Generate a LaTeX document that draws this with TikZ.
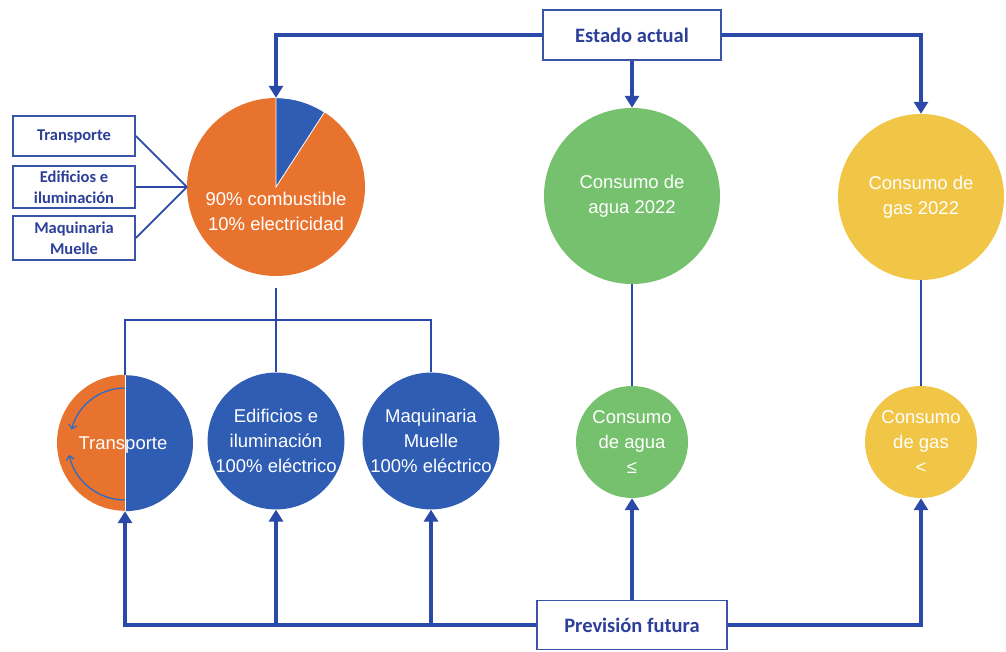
\documentclass[tikz,border=0pt]{standalone}
\usepackage{fontspec}
\setmainfont{Liberation Sans}
\newfontfamily\boxfont{Carlito}
\usetikzlibrary{arrows.meta}

\definecolor{fuel}{HTML}{E8732F}
\definecolor{elec}{HTML}{2F5DB4}
\definecolor{lineblue}{HTML}{2A49A8}
\definecolor{boxblue}{HTML}{3A55A8}
\definecolor{boxtext}{HTML}{2C3F99}
\definecolor{water}{HTML}{76C16D}
\definecolor{gas}{HTML}{F1C545}
\definecolor{arcblue}{HTML}{2F6BC4}

\begin{document}
\begin{tikzpicture}[x=1pt,y=1pt,
  lbl/.style={draw=boxblue, line width=1.8pt, fill=white, text=boxtext,
    font=\boxfont\bfseries\fontsize{20.5}{24}\selectfont, inner sep=0pt},
  side/.style={draw=boxblue, line width=1.6pt, fill=white, text=boxtext, align=center,
    font=\boxfont\bfseries\fontsize{16.5}{21}\selectfont, inner sep=0pt,
    minimum width=122pt},
  disc/.style={circle, inner sep=0pt, text=white, align=center,
    font=\fontsize{18.5}{25}\selectfont},
  txt/.style={text=white, align=center, font=\fontsize{18.5}{25}\selectfont},
  flow/.style={draw=lineblue, line width=3.2pt, -{Triangle[width=14pt,length=12pt]}},
  link/.style={draw=lineblue, line width=1.8pt},
  turn/.style={draw=arcblue, line width=1.3pt, -{Straight Barb[length=4pt,width=8pt]}}]

% canvas
\fill[white] (0,0) rectangle (1006,651);
\useasboundingbox (0,0) rectangle (1006,651);

% header and footer boxes
\node[lbl, minimum width=178pt, minimum height=50pt] (estado) at (632,616) {Estado actual};
\node[lbl, minimum width=190pt, minimum height=49pt] (prev) at (632,26) {Previsión futura};

% current energy mix
\node[circle, inner sep=0pt, minimum size=178pt, fill=fuel] (pie) at (276,464) {};
\fill[elec, draw=white, line width=0.8pt] (pie.center) -- (pie.90)
  arc[start angle=90, end angle=57, radius=89pt] -- cycle;
\node[txt] (pietext) at (276,440) {90\% combustible\\10\% electricidad};

% sectors
\node[side, minimum height=40pt] (s1) at (74,515) {Transporte};
\node[side, minimum height=42pt] (s2) at (74,464) {Edificios e\\iluminación};
\node[side, minimum height=44pt] (s3) at (74,413) {Maquinaria\\Muelle};

% water and gas, current
\node[disc, minimum size=176pt, fill=water] (aguabig) at (632,455) {Consumo de\\agua 2022};
\node[disc, minimum size=166pt, fill=gas] (gasbig) at (921,454) {Consumo de\\gas 2022};

% water and gas, future
\node[disc, minimum size=112pt, fill=water] (aguasm) at (632,209) {Consumo\\de agua\\≤};
\node[disc, minimum size=112pt, fill=gas] (gassm) at (921,209) {Consumo\\de gas\\<};

% future energy per sector
\node[circle, inner sep=0pt, minimum size=136pt] (tr) at (125,208) {};
\fill[fuel] (tr.north) arc[start angle=90, end angle=270, radius=68pt] -- cycle;
\fill[elec] (tr.south) arc[start angle=-90, end angle=90, radius=68pt] -- cycle;
\draw[white, line width=1pt] (tr.north) -- (tr.south);
\draw[turn] ([shift={(90:55pt)}]tr.center) arc[start angle=90, end angle=166, radius=55pt];
\draw[turn] ([shift={(270:57pt)}]tr.center) arc[start angle=270, end angle=192, radius=57pt];
\node[txt] (trtext) at (123,206) {Transporte};

\node[disc, minimum size=134pt, fill=elec] (edif) at (276,210) {Edificios e\\iluminación\\100\% eléctrico};
\node[disc, minimum size=136pt, fill=elec] (maq) at (431,210) {Maquinaria\\Muelle\\100\% eléctrico};

% connectors from the current state
\draw[flow] (estado.west) -| (pie.north);
\draw[flow] (estado.east) -| (gasbig.north);
\draw[flow] (estado.south) -- (aguabig.north);
\draw[link] (aguabig.south) -- (aguasm.north);
\draw[link] (gasbig.south) -- (gassm.north);

\draw[link] (s1.east) -- (pie.west);
\draw[link] (s2.east) -- (pie.west);
\draw[link] (s3.east) -- (pie.west);

\coordinate (bar) at (0,331);
\draw[link, shorten <=12pt] (pie.south) -- (edif.north);
\draw[link] (tr.north) -- (tr.north |- bar) -- (maq.north |- bar) -- (maq.north);

% connectors from the forecast
\draw[flow] (prev.west) -| (tr.south);
\draw[flow] (edif.south |- prev.west) -- (edif.south);
\draw[flow] (maq.south |- prev.west) -- (maq.south);
\draw[flow] (prev.north) -- (aguasm.south);
\draw[flow] (prev.east) -| (gassm.south);
\end{tikzpicture}
\end{document}
